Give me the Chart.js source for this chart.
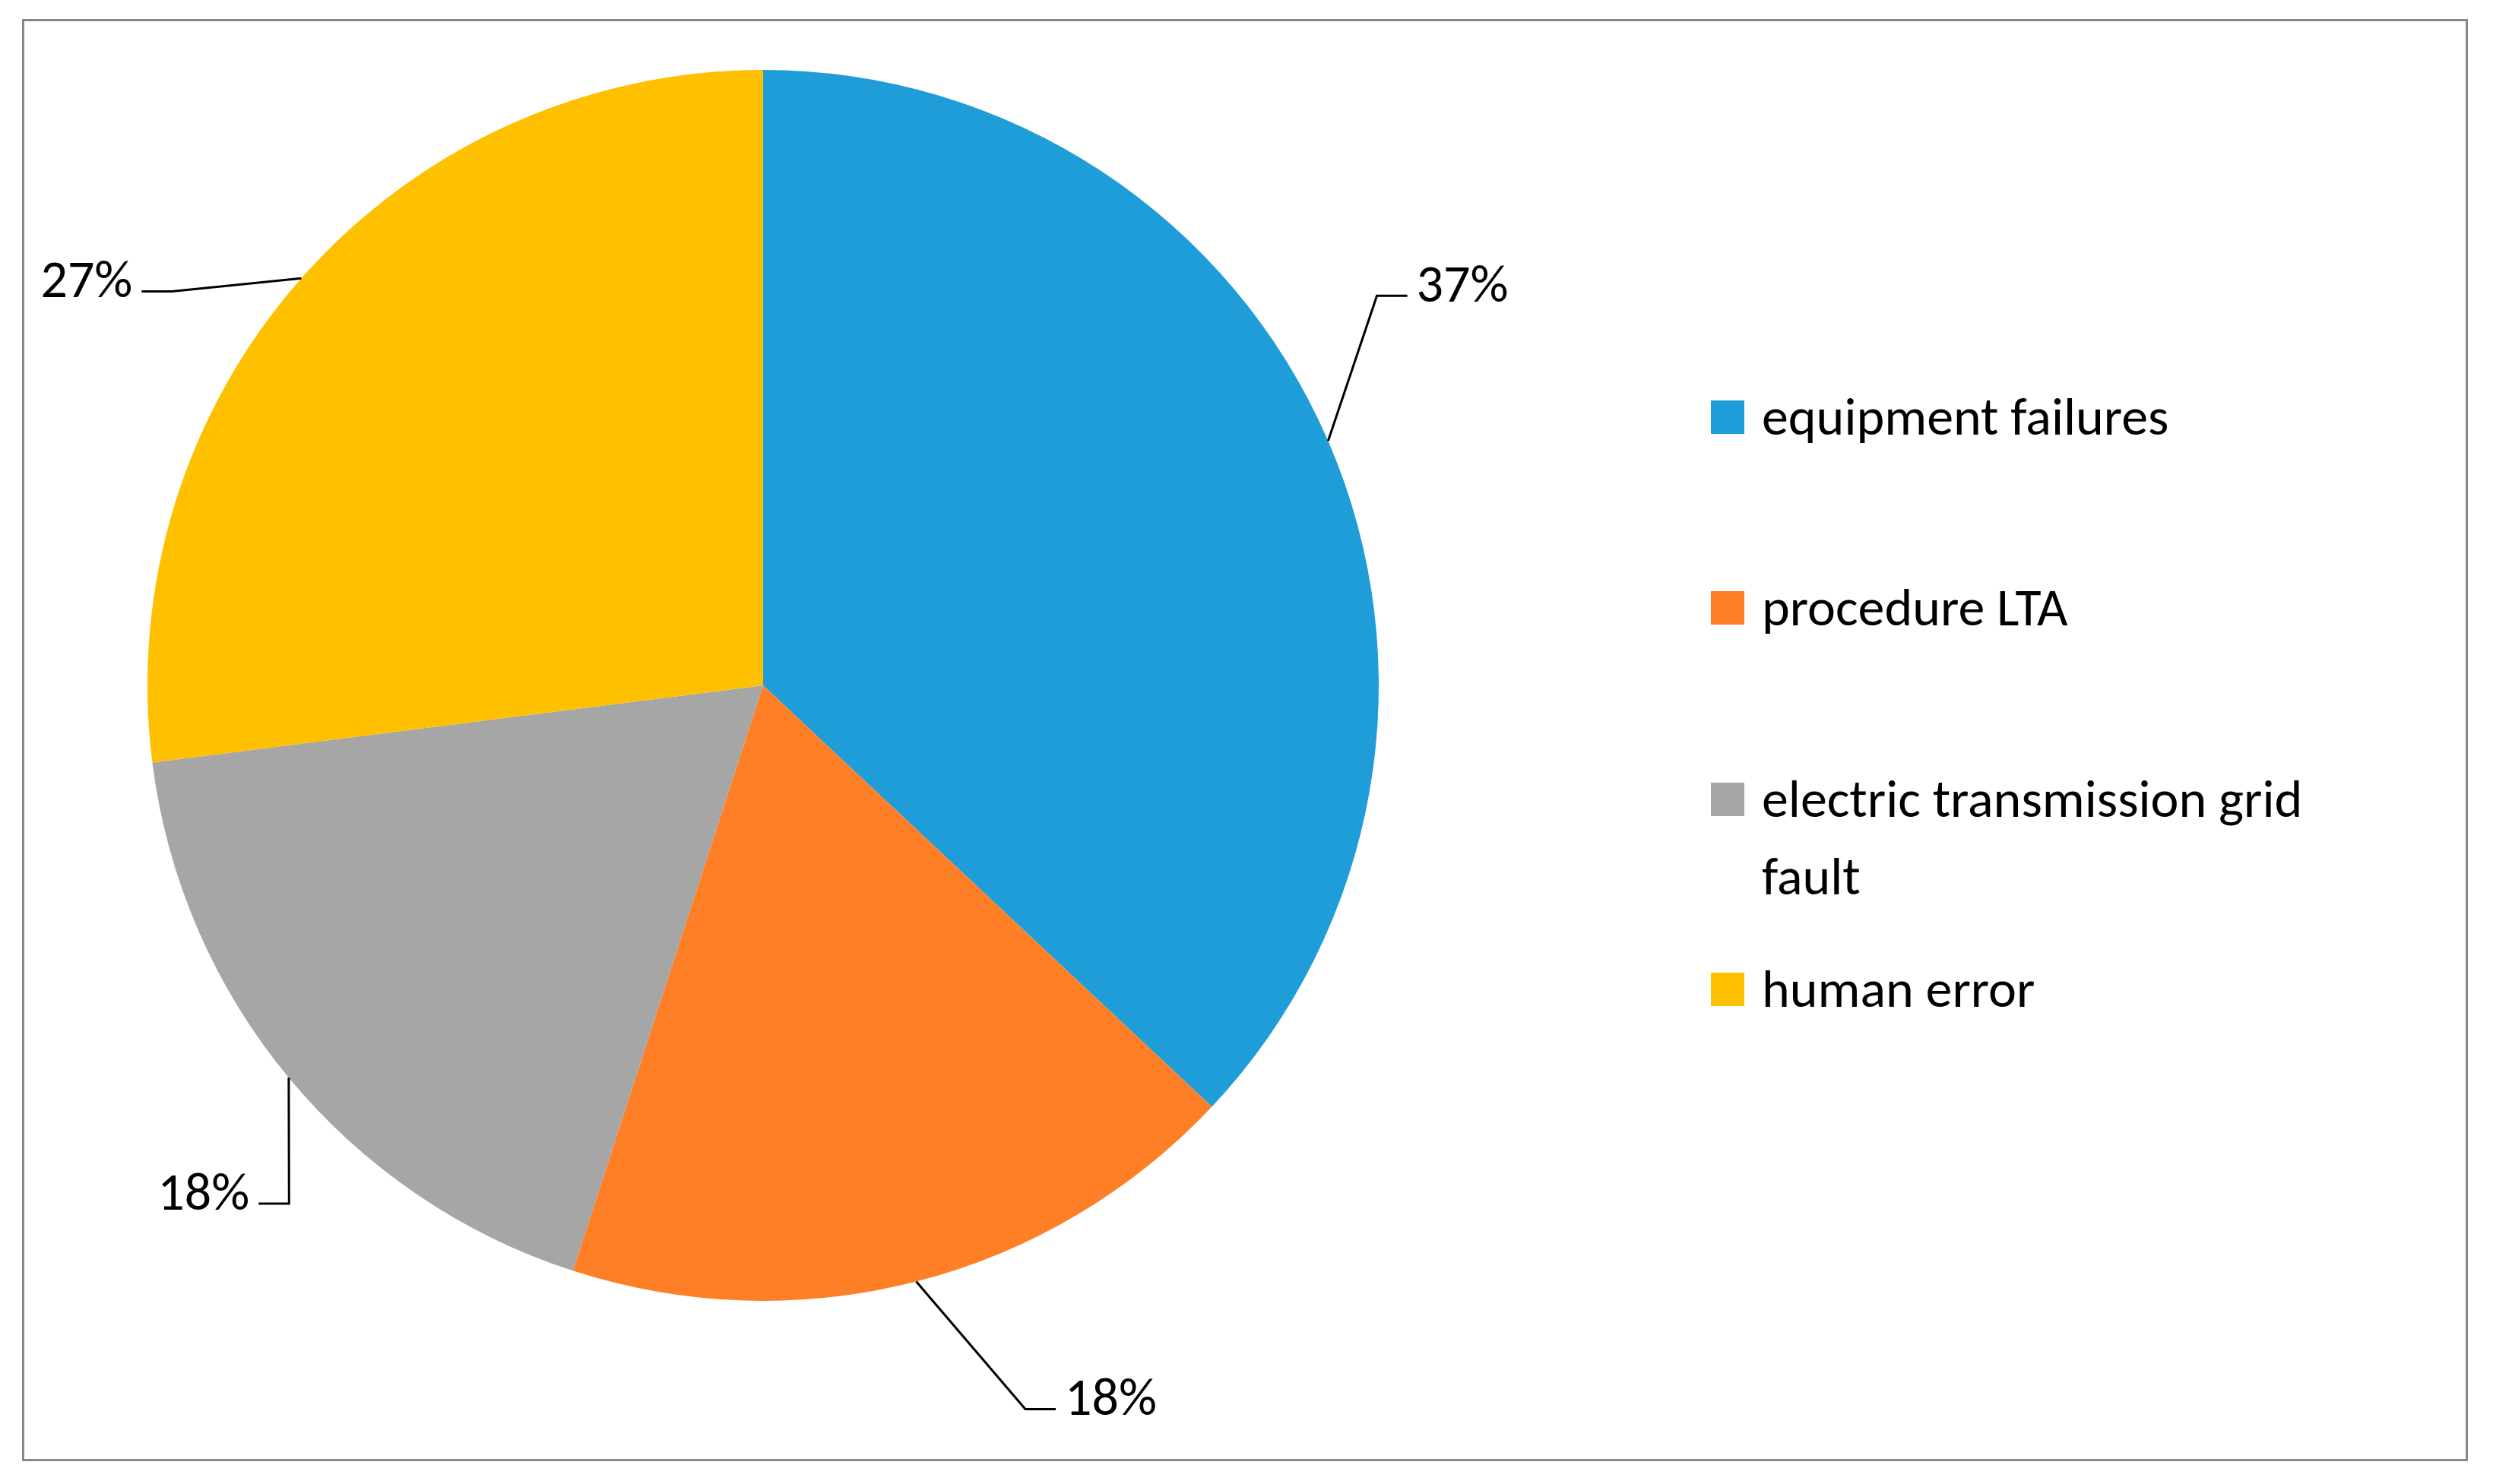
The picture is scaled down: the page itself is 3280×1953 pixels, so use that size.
<!DOCTYPE html>
<html><head><meta charset="utf-8">
<script src="https://cdn.jsdelivr.net/npm/chart.js@4"></script>
<style>
html,body{margin:0;padding:0;background:#fff;}
#wrap{position:relative;width:3280px;height:1953px;}
#frame{position:absolute;left:29px;top:25px;width:3218px;height:1898px;border:3px solid #888;box-sizing:border-box;}
canvas{position:absolute;left:0;top:0;}
.leg{position:absolute;left:2251px;font-family:Calibri,Carlito,"Open Sans",sans-serif;font-size:70px;color:#000;line-height:102px;}
.leg span.sw{position:absolute;left:0;top:30px;width:44px;height:44px;}
.leg div.t{margin-left:67px;width:900px;}
</style></head><body>
<div id="wrap"><div id="frame"></div><canvas id="c" width="3280" height="1953"></canvas>
<div id="legend"></div></div>
<script>
const categories=["equipment failures","procedure LTA","electric transmission grid fault","human error"];
const values=[37,18,18,27];
const labels=["37%","18%","18%","27%"];
const colors=["#1F9DD9","#FF7F27","#A6A6A6","#FFC000"];
// leader elbow positions as fractions of radius relative to center, and text side
const elbows=[[0.997,-0.633,1],[0.426,1.176,1],[-0.77,0.842,-1],[-0.96,-0.64,-1]];
const legendTops=[497,748,1000,1250];
const lg=document.getElementById('legend');
categories.forEach((c,i)=>{const d=document.createElement('div');d.className='leg';d.style.top=legendTops[i]+'px';
d.innerHTML='<span class="sw" style="background:'+colors[i]+'"></span><div class="t">'+(i==2?'electric transmission grid<br>fault':c)+'</div>';lg.appendChild(d);});
const labelPlugin={id:'lbl',afterDatasetsDraw(chart){const ctx=chart.ctx;const meta=chart.getDatasetMeta(0);
ctx.save();ctx.strokeStyle='#000';ctx.lineWidth=3;ctx.fillStyle='#000';ctx.font='70px Calibri, Carlito, "Open Sans", sans-serif';ctx.textBaseline='middle';
meta.data.forEach((a,i)=>{const m=(a.startAngle+a.endAngle)/2;const r=a.outerRadius;
const sx=a.x+r*Math.cos(m),sy=a.y+r*Math.sin(m);const ex=a.x+elbows[i][0]*r,ey=a.y+elbows[i][1]*r;const s=elbows[i][2];
ctx.beginPath();ctx.moveTo(sx,sy);ctx.lineTo(ex,ey);ctx.lineTo(ex+s*40,ey);ctx.stroke();
ctx.textAlign=s>0?'left':'right';ctx.fillText(labels[i],ex+s*52,ey-10);});ctx.restore();}};
new Chart(document.getElementById('c'),{type:'pie',data:{labels:categories,datasets:[{data:values,backgroundColor:colors,borderWidth:0}]},
options:{responsive:false,animation:false,layout:{padding:{left:194,top:92,right:1466,bottom:241}},plugins:{legend:{display:false},tooltip:{enabled:false}}},plugins:[labelPlugin]});
</script></body></html>
